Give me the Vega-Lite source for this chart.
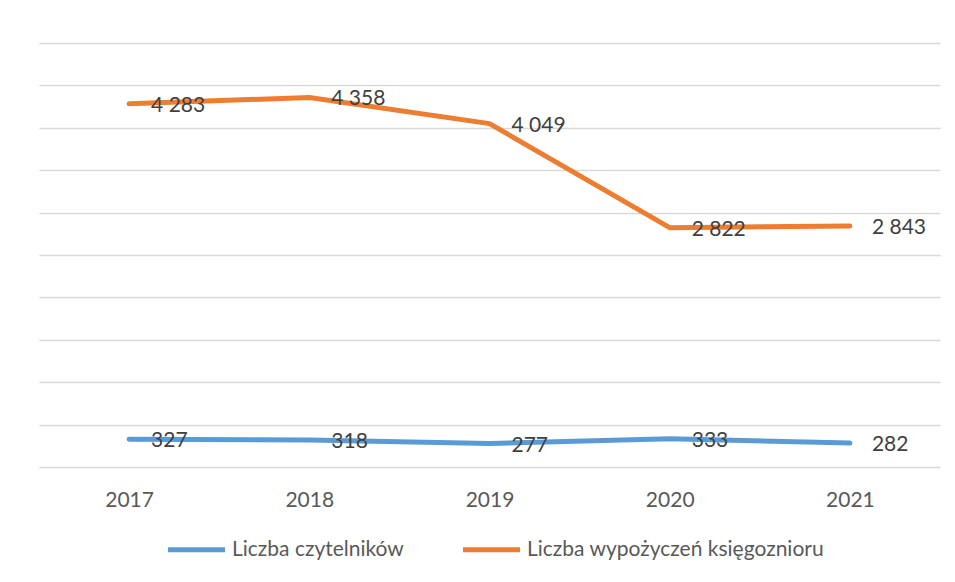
{
  "$schema": "https://vega.github.io/schema/vega-lite/v6.json",
  "width": 901,
  "height": 424,
  "autosize": "none",
  "padding": {"left": 39, "top": 43, "right": 15, "bottom": 115},
  "background": "white",
  "config": {
    "view": {"stroke": null},
    "font": "Lato",
    "text": {"font": "Lato"},
    "locale": {
      "number": {"decimal": ",", "thousands": " ", "grouping": [3], "currency": ["", " zł"]}
    }
  },
  "data": {
    "values": [
      {"year": "2017", "series": "Liczba czytelników", "value": 327},
      {"year": "2018", "series": "Liczba czytelników", "value": 318},
      {"year": "2019", "series": "Liczba czytelników", "value": 277},
      {"year": "2020", "series": "Liczba czytelników", "value": 333},
      {"year": "2021", "series": "Liczba czytelników", "value": 282},
      {"year": "2017", "series": "Liczba wypożyczeń księgoznioru", "value": 4283},
      {"year": "2018", "series": "Liczba wypożyczeń księgoznioru", "value": 4358},
      {"year": "2019", "series": "Liczba wypożyczeń księgoznioru", "value": 4049},
      {"year": "2020", "series": "Liczba wypożyczeń księgoznioru", "value": 2822},
      {"year": "2021", "series": "Liczba wypożyczeń księgoznioru", "value": 2843}
    ]
  },
  "encoding": {
    "x": {
      "field": "year",
      "type": "ordinal",
      "scale": {"type": "point", "padding": 0.5},
      "axis": {
        "title": null,
        "labelAngle": 0,
        "ticks": false,
        "domain": false,
        "grid": false,
        "labelFont": "Lato",
        "labelFontSize": 21,
        "labelColor": "#595959",
        "labelPadding": 22
      }
    },
    "y": {
      "field": "value",
      "type": "quantitative",
      "scale": {"domain": [0, 5000], "nice": false},
      "axis": {
        "title": null,
        "labels": false,
        "ticks": false,
        "domain": false,
        "grid": true,
        "gridColor": "#D9D9D9",
        "gridWidth": 1.5,
        "values": [0, 500, 1000, 1500, 2000, 2500, 3000, 3500, 4000, 4500, 5000]
      }
    },
    "color": {
      "field": "series",
      "type": "nominal",
      "scale": {
        "domain": ["Liczba czytelników", "Liczba wypożyczeń księgoznioru"],
        "range": ["#5B9BD5", "#ED7D31"]
      },
      "legend": {
        "title": null,
        "orient": "none",
        "direction": "horizontal",
        "legendX": 126,
        "legendY": 475,
        "symbolType": "stroke",
        "symbolSize": 3250,
        "symbolStrokeWidth": 5,
        "labelFont": "Lato",
        "labelFontSize": 21,
        "labelColor": "#595959",
        "labelOffset": 4,
        "labelLimit": 500,
        "columnPadding": 48
      }
    }
  },
  "layer": [
    {
      "mark": {"type": "line", "strokeWidth": 5, "strokeCap": "round", "strokeJoin": "round"}
    },
    {
      "mark": {
        "type": "text",
        "align": "left",
        "baseline": "middle",
        "dx": 22,
        "dy": 2,
        "fontSize": 21,
        "font": "Lato",
        "color": "#404040"
      },
      "encoding": {
        "text": {"field": "value", "type": "quantitative", "format": ",d"},
        "color": {"value": "#404040"}
      }
    }
  ]
}
